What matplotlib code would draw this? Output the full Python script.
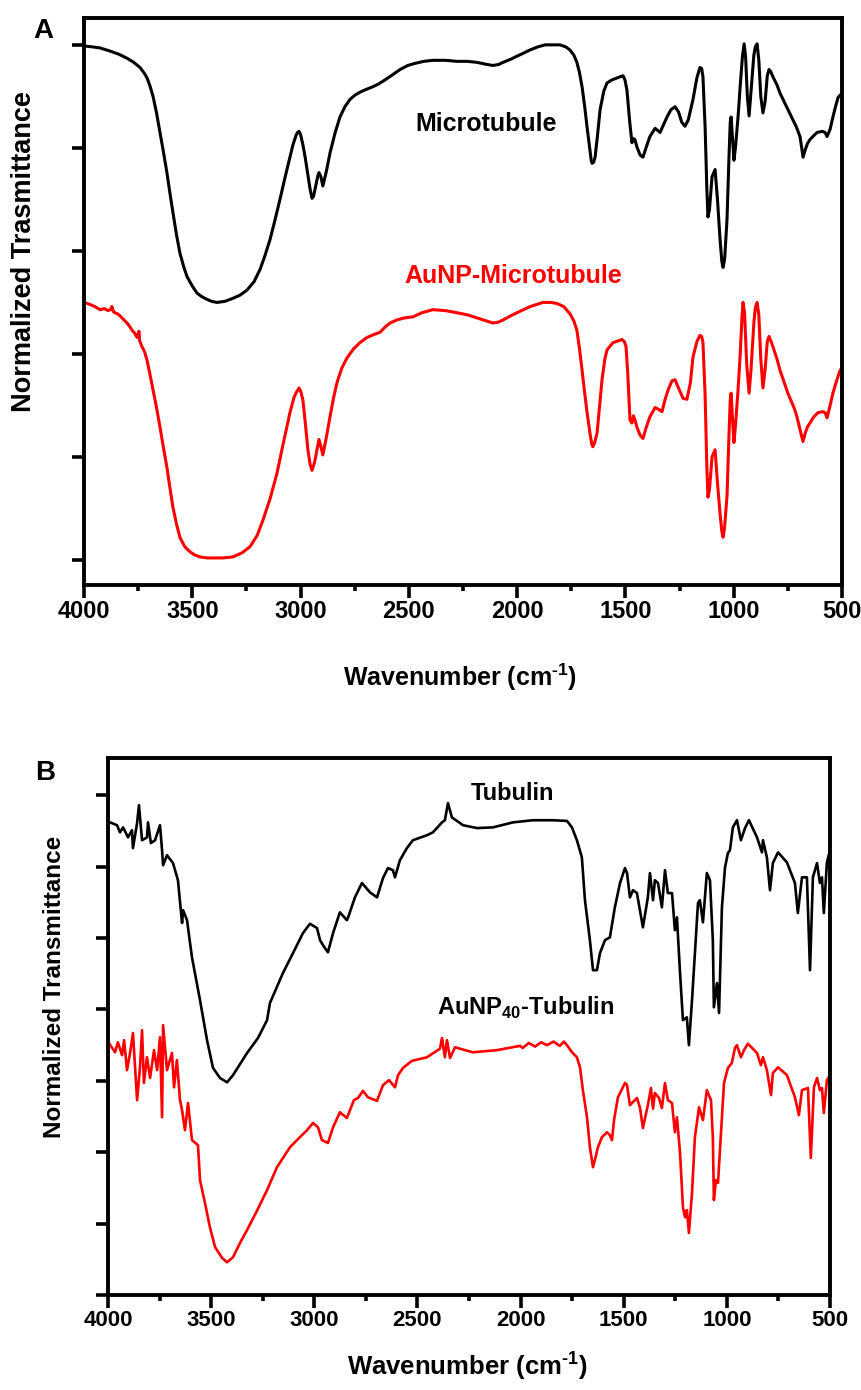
import numpy as np
import matplotlib
matplotlib.use("Agg")
import matplotlib.pyplot as plt
from matplotlib.ticker import MultipleLocator

# (wavenumber cm-1, transmittance in tick units)
microtubule = [
    (4000, 4.99), (3960, 4.98), (3926, 4.97), (3880, 4.94), (3840, 4.91), (3801, 4.87),
    (3770, 4.83), (3741, 4.78), (3720, 4.72), (3709, 4.68), (3695, 4.60), (3681, 4.50),
    (3665, 4.34), (3649, 4.15), (3633, 3.96), (3617, 3.76), (3603, 3.56), (3589, 3.37),
    (3573, 3.16), (3557, 2.98), (3540, 2.85), (3524, 2.75), (3500, 2.66), (3478, 2.59),
    (3455, 2.555), (3432, 2.53), (3410, 2.51), (3386, 2.50), (3350, 2.51), (3312, 2.54),
    (3280, 2.57), (3247, 2.62), (3215, 2.70), (3187, 2.82), (3165, 2.95), (3141, 3.11),
    (3118, 3.30), (3095, 3.50), (3072, 3.71), (3049, 3.91), (3035, 4.03), (3021, 4.12),
    (3014, 4.15), (3007, 4.16), (3000, 4.13), (2989, 4.03), (2978, 3.90), (2966, 3.74),
    (2956, 3.60), (2947, 3.51), (2940, 3.53), (2929, 3.64), (2920, 3.73), (2915, 3.76),
    (2906, 3.72), (2897, 3.63), (2880, 3.78), (2864, 3.95), (2840, 4.15), (2818, 4.30),
    (2795, 4.40), (2772, 4.47), (2750, 4.51), (2726, 4.54), (2700, 4.565), (2670, 4.59),
    (2640, 4.62), (2610, 4.66), (2575, 4.71), (2541, 4.76), (2505, 4.80), (2472, 4.82),
    (2430, 4.84), (2389, 4.85), (2330, 4.85), (2278, 4.84), (2230, 4.84), (2185, 4.83),
    (2140, 4.81), (2111, 4.80), (2085, 4.81), (2065, 4.83), (2030, 4.86), (2001, 4.89),
    (1970, 4.92), (1941, 4.95), (1905, 4.98), (1871, 5.00), (1835, 5.00), (1802, 5.00),
    (1775, 4.98), (1756, 4.95), (1738, 4.90), (1724, 4.83), (1712, 4.73), (1700, 4.59),
    (1688, 4.40), (1677, 4.20), (1665, 4.00), (1658, 3.88), (1654, 3.85), (1647, 3.86),
    (1640, 3.91), (1630, 4.10), (1617, 4.37), (1600, 4.55), (1585, 4.63), (1562, 4.66),
    (1525, 4.69), (1511, 4.70), (1502, 4.66), (1493, 4.56), (1480, 4.25), (1470, 4.05),
    (1463, 4.09), (1456, 4.08), (1447, 4.01), (1432, 3.93), (1419, 3.91), (1405, 4.00),
    (1387, 4.11), (1363, 4.19), (1340, 4.15), (1325, 4.22), (1308, 4.30), (1290, 4.37),
    (1271, 4.40), (1255, 4.35), (1240, 4.25), (1225, 4.21), (1210, 4.27), (1188, 4.47),
    (1170, 4.68), (1156, 4.78), (1148, 4.77), (1142, 4.69), (1132, 4.20), (1124, 3.60),
    (1119, 3.33), (1112, 3.40), (1100, 3.72), (1086, 3.79), (1075, 3.50), (1063, 3.11),
    (1055, 2.90), (1049, 2.84), (1042, 2.92), (1031, 3.30), (1022, 3.90), (1016, 4.25),
    (1012, 4.30), (1005, 4.08), (999, 3.88), (992, 4.00), (980, 4.30), (970, 4.60),
    (960, 4.88), (952, 5.01), (945, 4.88), (937, 4.50), (929, 4.31), (922, 4.50),
    (907, 4.90), (900, 4.98), (892, 5.01), (884, 4.85), (875, 4.50), (865, 4.34),
    (855, 4.45), (845, 4.70), (837, 4.76), (829, 4.74), (819, 4.69), (800, 4.61),
    (786, 4.53), (740, 4.33), (710, 4.20), (694, 4.11), (686, 4.00), (680, 3.91),
    (670, 3.98), (660, 4.04), (648, 4.08), (630, 4.12), (615, 4.15), (590, 4.16),
    (578, 4.15), (569, 4.11), (555, 4.18), (542, 4.30), (530, 4.40), (518, 4.49),
    (500, 4.53),
]

aunp_microtubule = [
    (4000, 2.50), (3985, 2.49), (3972, 2.48), (3950, 2.46), (3926, 2.43), (3905, 2.44),
    (3889, 2.42), (3878, 2.43), (3871, 2.46), (3864, 2.41), (3857, 2.40), (3845, 2.39),
    (3834, 2.37), (3820, 2.34), (3801, 2.30), (3790, 2.27), (3778, 2.23), (3765, 2.20),
    (3755, 2.16), (3750, 2.19), (3746, 2.22), (3743, 2.13), (3732, 2.07), (3720, 2.02),
    (3709, 1.94), (3695, 1.80), (3681, 1.65), (3665, 1.48), (3649, 1.29), (3633, 1.09),
    (3617, 0.90), (3603, 0.70), (3589, 0.51), (3573, 0.35), (3557, 0.22), (3535, 0.13),
    (3511, 0.08), (3490, 0.05), (3464, 0.03), (3430, 0.02), (3404, 0.02), (3360, 0.02),
    (3312, 0.03), (3270, 0.07), (3233, 0.13), (3200, 0.24), (3173, 0.39), (3140, 0.60),
    (3109, 0.84), (3080, 1.13), (3049, 1.43), (3030, 1.58), (3021, 1.62), (3007, 1.67),
    (2998, 1.63), (2989, 1.55), (2978, 1.33), (2966, 1.07), (2956, 0.93), (2947, 0.87),
    (2935, 0.95), (2924, 1.07), (2915, 1.17), (2906, 1.10), (2897, 1.02), (2880, 1.20),
    (2864, 1.39), (2848, 1.57), (2832, 1.72), (2810, 1.86), (2786, 1.96), (2755, 2.05),
    (2726, 2.11), (2693, 2.16), (2660, 2.19), (2633, 2.21), (2610, 2.26), (2587, 2.30),
    (2555, 2.33), (2520, 2.35), (2481, 2.36), (2440, 2.40), (2389, 2.43), (2330, 2.42),
    (2278, 2.40), (2230, 2.38), (2185, 2.35), (2140, 2.32), (2111, 2.30), (2085, 2.31),
    (2065, 2.33), (2030, 2.37), (2001, 2.40), (1940, 2.46), (1881, 2.50), (1845, 2.50),
    (1816, 2.49), (1785, 2.46), (1756, 2.39), (1738, 2.32), (1724, 2.23), (1712, 2.05),
    (1700, 1.84), (1688, 1.62), (1677, 1.43), (1663, 1.22), (1655, 1.12), (1650, 1.10),
    (1642, 1.14), (1631, 1.23), (1620, 1.48), (1608, 1.75), (1595, 1.95), (1585, 2.04),
    (1557, 2.11), (1516, 2.14), (1505, 2.12), (1497, 2.07), (1489, 1.80), (1479, 1.36),
    (1470, 1.33), (1463, 1.40), (1456, 1.36), (1447, 1.29), (1432, 1.21), (1419, 1.18),
    (1405, 1.28), (1387, 1.39), (1363, 1.48), (1345, 1.46), (1331, 1.44), (1318, 1.55),
    (1303, 1.65), (1285, 1.74), (1271, 1.75), (1255, 1.67), (1234, 1.57), (1216, 1.56),
    (1200, 1.72), (1188, 1.97), (1170, 2.12), (1156, 2.18), (1148, 2.17), (1142, 2.11),
    (1132, 1.60), (1124, 0.90), (1119, 0.61), (1112, 0.68), (1100, 1.00), (1086, 1.07),
    (1075, 0.75), (1063, 0.45), (1055, 0.28), (1049, 0.22), (1042, 0.32), (1031, 0.62),
    (1022, 1.20), (1016, 1.55), (1012, 1.62), (1005, 1.35), (999, 1.14), (992, 1.30),
    (980, 1.65), (970, 2.00), (962, 2.35), (957, 2.50), (950, 2.40), (940, 1.90),
    (929, 1.62), (920, 1.85), (907, 2.30), (900, 2.45), (892, 2.50), (884, 2.38),
    (875, 1.95), (865, 1.67), (855, 1.85), (845, 2.12), (837, 2.17), (829, 2.13),
    (819, 2.07), (800, 1.95), (786, 1.84), (750, 1.62), (720, 1.47), (708, 1.39),
    (692, 1.25), (680, 1.15), (670, 1.23), (660, 1.29), (648, 1.33), (630, 1.39),
    (611, 1.43), (590, 1.44), (578, 1.43), (569, 1.38), (555, 1.50), (542, 1.62),
    (525, 1.74), (509, 1.84), (500, 1.86),
]

tubulin = [
    (4000, 6.62), (3990, 6.62), (3956, 6.58), (3942, 6.48), (3927, 6.55), (3903, 6.41),
    (3884, 6.51), (3879, 6.26), (3859, 6.61), (3850, 6.86), (3835, 6.37), (3811, 6.41),
    (3806, 6.62), (3792, 6.33), (3772, 6.37), (3748, 6.58), (3738, 6.23), (3733, 6.02),
    (3714, 6.16), (3685, 6.05), (3661, 5.81), (3641, 5.21), (3636, 5.39), (3617, 5.25),
    (3593, 4.73), (3554, 4.13), (3520, 3.57), (3491, 3.18), (3457, 3.04), (3423, 2.98),
    (3394, 3.08), (3326, 3.39), (3273, 3.60), (3229, 3.85), (3215, 4.09), (3152, 4.51),
    (3103, 4.79), (3055, 5.07), (3021, 5.20), (2987, 5.14), (2972, 4.97), (2958, 4.90),
    (2934, 4.80), (2909, 5.07), (2876, 5.36), (2842, 5.25), (2837, 5.28), (2803, 5.57),
    (2769, 5.77), (2730, 5.64), (2696, 5.57), (2667, 5.84), (2643, 5.98), (2619, 5.95),
    (2609, 5.85), (2585, 6.09), (2551, 6.26), (2522, 6.37), (2454, 6.44), (2425, 6.48),
    (2381, 6.62), (2367, 6.65), (2352, 6.89), (2333, 6.69), (2279, 6.58), (2211, 6.54),
    (2134, 6.55), (2037, 6.62), (1940, 6.65), (1843, 6.65), (1775, 6.64), (1751, 6.55),
    (1727, 6.37), (1703, 6.13), (1688, 5.53), (1664, 4.97), (1649, 4.55), (1630, 4.55),
    (1615, 4.79), (1591, 4.97), (1567, 5.01), (1543, 5.43), (1518, 5.77), (1494, 5.98),
    (1484, 5.91), (1470, 5.57), (1455, 5.67), (1436, 5.63), (1407, 5.15), (1383, 5.57),
    (1373, 5.91), (1358, 5.53), (1349, 5.81), (1334, 5.77), (1315, 5.43), (1300, 5.95),
    (1286, 5.63), (1266, 5.63), (1252, 5.11), (1242, 5.29), (1227, 4.51), (1213, 3.85),
    (1194, 3.89), (1184, 3.50), (1169, 4.13), (1155, 4.79), (1140, 5.49), (1131, 5.53),
    (1116, 5.22), (1097, 5.91), (1082, 5.81), (1068, 4.97), (1063, 4.03), (1048, 4.37),
    (1038, 3.95), (1024, 5.43), (1009, 5.99), (995, 6.19), (985, 6.23), (971, 6.55),
    (951, 6.65), (932, 6.37), (912, 6.54), (893, 6.65), (854, 6.41), (830, 6.20),
    (825, 6.37), (806, 6.13), (791, 5.67), (777, 6.05), (752, 6.20), (709, 6.06),
    (670, 5.77), (656, 5.35), (636, 5.85), (612, 5.85), (597, 4.55), (583, 5.85),
    (563, 6.05), (549, 5.77), (539, 5.85), (530, 5.35), (515, 6.06), (500, 6.23),
]

aunp40_tubulin = [
    (4000, 3.55), (3966, 3.40), (3952, 3.54), (3932, 3.36), (3922, 3.57), (3908, 3.15),
    (3893, 3.39), (3879, 3.67), (3859, 2.73), (3845, 3.19), (3835, 3.71), (3826, 2.97),
    (3811, 3.33), (3796, 3.04), (3777, 3.43), (3762, 3.15), (3748, 3.61), (3738, 2.49),
    (3733, 3.78), (3714, 3.15), (3690, 3.39), (3680, 2.91), (3666, 3.29), (3651, 2.73),
    (3641, 2.59), (3627, 2.31), (3612, 2.69), (3593, 2.17), (3564, 2.10), (3554, 1.61),
    (3530, 1.29), (3506, 0.95), (3481, 0.67), (3447, 0.52), (3423, 0.46), (3394, 0.53),
    (3360, 0.73), (3326, 0.91), (3278, 1.18), (3229, 1.47), (3181, 1.79), (3118, 2.07),
    (3084, 2.17), (3035, 2.31), (3006, 2.41), (2982, 2.35), (2963, 2.17), (2934, 2.13),
    (2909, 2.35), (2876, 2.56), (2842, 2.48), (2808, 2.73), (2788, 2.76), (2764, 2.86),
    (2740, 2.77), (2696, 2.72), (2667, 2.94), (2638, 3.01), (2609, 2.91), (2594, 3.08),
    (2570, 3.18), (2527, 3.28), (2454, 3.33), (2391, 3.45), (2381, 3.60), (2367, 3.33),
    (2357, 3.57), (2342, 3.32), (2318, 3.47), (2294, 3.45), (2231, 3.40), (2115, 3.43),
    (2003, 3.49), (1990, 3.46), (1960, 3.53), (1930, 3.48), (1900, 3.54), (1872, 3.50),
    (1840, 3.55), (1810, 3.49), (1790, 3.55), (1775, 3.50), (1751, 3.40), (1727, 3.33),
    (1712, 3.19), (1698, 2.87), (1678, 2.49), (1664, 2.07), (1649, 1.79), (1640, 1.89),
    (1625, 2.07), (1606, 2.21), (1581, 2.28), (1567, 2.24), (1557, 2.17), (1547, 2.45),
    (1528, 2.77), (1494, 2.97), (1484, 2.94), (1470, 2.66), (1436, 2.76), (1421, 2.62),
    (1407, 2.34), (1383, 2.66), (1368, 2.90), (1358, 2.61), (1349, 2.83), (1329, 2.76),
    (1315, 2.62), (1300, 2.97), (1286, 2.73), (1266, 2.69), (1252, 2.28), (1242, 2.49),
    (1227, 1.99), (1213, 1.23), (1203, 1.09), (1194, 1.19), (1184, 0.87), (1169, 1.43),
    (1155, 2.21), (1135, 2.63), (1116, 2.45), (1097, 2.87), (1077, 2.73), (1068, 2.21),
    (1063, 1.33), (1053, 1.61), (1043, 1.57), (1024, 2.49), (1014, 2.97), (995, 3.18),
    (976, 3.25), (961, 3.46), (951, 3.50), (932, 3.33), (917, 3.43), (898, 3.52),
    (854, 3.39), (835, 3.22), (825, 3.33), (806, 3.15), (786, 2.80), (777, 3.11),
    (752, 3.19), (709, 3.08), (670, 2.77), (651, 2.52), (636, 2.87), (607, 2.90),
    (593, 1.92), (578, 2.91), (563, 3.04), (549, 2.87), (539, 2.90), (530, 2.55),
    (515, 3.01), (500, 3.08),
]

x_ticks = [4000, 3500, 3000, 2500, 2000, 1500, 1000, 500]

plt.rcParams['font.family'] = ['Liberation Sans', 'DejaVu Sans']
plt.rcParams['font.weight'] = 'bold'
plt.rcParams['mathtext.fontset'] = 'custom'
plt.rcParams['mathtext.rm'] = 'Liberation Sans:bold'
plt.rcParams['mathtext.bf'] = 'Liberation Sans:bold'


def draw_trace(ax, data, color, lw):
    wn, t = np.array(data).T
    ax.plot(wn, t, color=color, lw=lw, solid_joinstyle='round')


def style_axes(ax, nticks, ylim, labelsize):
    ax.set_xlim(4000, 500)
    ax.set_ylim(*ylim)
    ax.set_xticks(x_ticks)
    ax.set_xticklabels([str(v) for v in x_ticks])
    ax.xaxis.set_minor_locator(MultipleLocator(250))
    ax.set_yticks(range(nticks))
    ax.set_yticklabels([])
    ax.tick_params(which='major', direction='out', length=9, width=2.6,
                   labelsize=labelsize, pad=2)
    ax.tick_params(axis='x', which='minor', direction='out', length=4.5, width=2.6)
    for spine in ax.spines.values():
        spine.set_linewidth(2.8)


fig = plt.figure(figsize=(8.62, 13.90), dpi=100)
wn_label = 'Wavenumber (cm$^{\u20101}$)'

# panel A: microtubules
ax1 = fig.add_axes([0.0974, 0.5791, 0.8794, 0.4079])
draw_trace(ax1, microtubule, 'black', 2.2)
draw_trace(ax1, aunp_microtubule, 'red', 2.2)
style_axes(ax1, 6, (-0.243, 5.26), 17)
ax1.text(2144, 4.16, 'Microtubule', color='black', fontsize=18, ha='center', va='baseline')
ax1.text(2019, 2.69, 'AuNP-Microtubule', color='red', fontsize=18, ha='center', va='baseline')

# panel B: free tubulin
ax2 = fig.add_axes([0.1253, 0.0683, 0.8376, 0.3863])
draw_trace(ax2, tubulin, 'black', 1.9)
draw_trace(ax2, aunp40_tubulin, 'red', 1.9)
style_axes(ax2, 8, (0, 7.52), 16)
ax2.text(2037, 6.93, 'Tubulin', color='black', fontsize=17, ha='center', va='baseline')
ax2.text(1974, 3.92, r'AuNP$_{40}$-Tubulin', color='black', fontsize=17, ha='center', va='baseline')

fig.text(0.0278, 0.8187, 'Normalized Trasmittance', rotation=90, fontsize=19.5,
         ha='center', va='center')
fig.text(0.534, 0.5130, wn_label, fontsize=18, ha='center', va='center')
fig.text(0.0638, 0.2899, 'Normalized Transmittance', rotation=90, fontsize=17.5,
         ha='center', va='center')
fig.text(0.542, 0.0173, wn_label, fontsize=18.5, ha='center', va='center')

fig.text(0.0499, 0.9777, 'A', fontsize=20, ha='center', va='center')
fig.text(0.0522, 0.4439, 'B', fontsize=20, ha='center', va='center')

fig.savefig('out.png', dpi=100)
